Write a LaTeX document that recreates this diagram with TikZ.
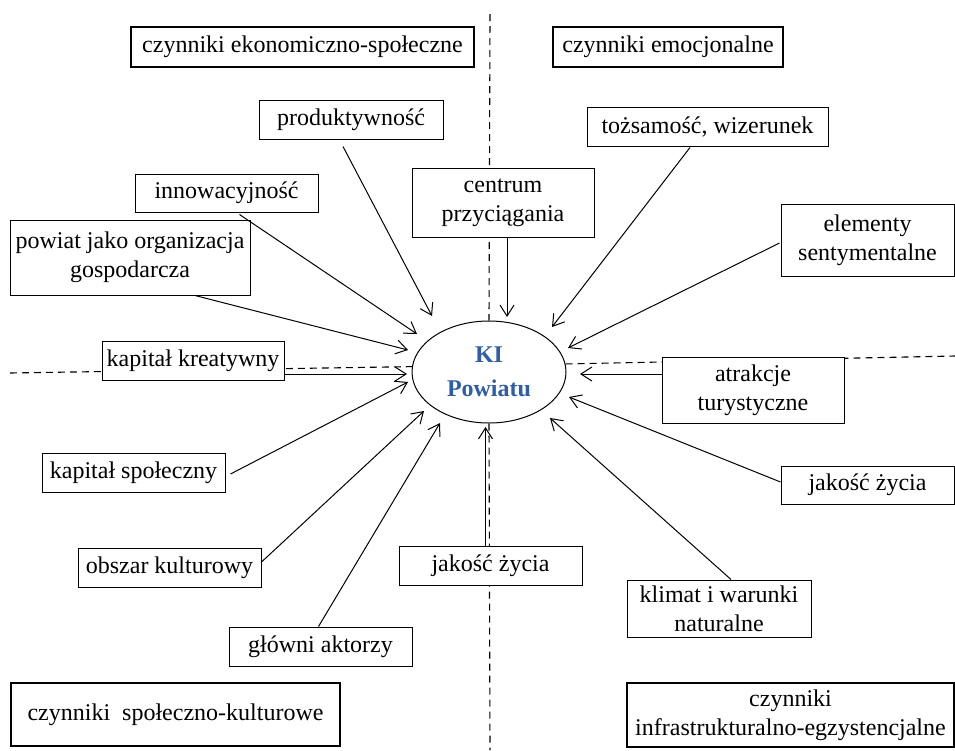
\documentclass[tikz,border=0pt]{standalone}
\usepackage{fontspec}
\setmainfont{Liberation Serif}
\usetikzlibrary{shapes.geometric,arrows.meta,calc}
\definecolor{kiblue}{RGB}{47,93,168}
\begin{document}
\begin{tikzpicture}[x=1pt,y=-1pt,
  txt/.style={font=\fontsize{24}{29}\selectfont},
  box/.style={txt,draw,line width=1pt,fill=white,inner sep=0pt,align=center,anchor=center},
  catbox/.style={box,line width=2pt},
  arr/.style={line width=1pt,-{Straight Barb[length=11pt,width=14pt,line width=1pt]}},
  dsh/.style={line width=1.1pt,dash pattern=on 7pt off 5pt}]
\useasboundingbox (0,0) rectangle (955,750);
\fill[white] (0,0) rectangle (955,750);

% centre
\node[ellipse,draw,line width=1pt,minimum width=154pt,minimum height=102pt,inner sep=0pt,
      align=center,text=kiblue,font=\fontsize{24}{34}\selectfont\bfseries] (ki) at (489,372) {KI\\Powiatu};

% dashed dividers
\coordinate (dTop) at (490,14);
\coordinate (dBot) at (490,750);
\coordinate (dLeft) at (10,373);
\coordinate (dRight) at (955,356);
\draw[dsh] (dTop) -- (ki.north);
\draw[dsh] (ki.south) -- (dBot);
\draw[dsh] (dLeft) -- (ki.176.5);
\draw[dsh] (ki.6) -- (dRight);

% category boxes
\node[catbox,minimum width=343pt,minimum height=40pt] (ekon) at (302.5,46.5) {czynniki ekonomiczno-społeczne};
\node[catbox,minimum width=230pt,minimum height=40pt] (emoc) at (668,46.5) {czynniki emocjonalne};
\node[catbox,minimum width=329pt,minimum height=63pt] (spkult) at (175.5,714.5) {czynniki\ \ społeczno-kulturowe};
\node[catbox,minimum width=327pt,minimum height=64pt] (infra) at (790.5,715) {czynniki\\infrastrukturalno-egzystencjalne};

% factor boxes
\node[box,minimum width=184pt,minimum height=39pt] (prod) at (351,119.5) {produktywność};
\node[box,minimum width=183pt,minimum height=38pt] (inno) at (226.5,193) {innowacyjność};
\node[box,minimum width=240pt,minimum height=75pt] (powiat) at (130,257.5) {powiat jako organizacja\\gospodarcza};
\node[box,minimum width=182pt,minimum height=69pt] (centrum) at (503,202.5) {centrum\\przyciągania};
\node[box,minimum width=241pt,minimum height=39pt] (tozs) at (707.5,126.5) {tożsamość, wizerunek};
\node[box,minimum width=173pt,minimum height=72pt] (elem) at (867.5,240) {elementy\\sentymentalne};
\node[box,minimum width=182pt,minimum height=39pt] (kreat) at (193,360.5) {kapitał kreatywny};
\node[box,minimum width=183pt,minimum height=39pt] (spol) at (133.5,472.5) {kapitał społeczny};
\node[box,minimum width=182pt,minimum height=66pt] (atrak) at (753,390) {atrakcje\\turystyczne};
\node[box,minimum width=173pt,minimum height=38pt] (jakR) at (867.5,485) {jakość życia};
\node[box,minimum width=183pt,minimum height=39pt] (obszar) at (169.5,567.5) {obszar kulturowy};
\node[box,minimum width=183pt,minimum height=39pt] (glowni) at (320.5,646.5) {główni aktorzy};
\node[box,minimum width=183pt,minimum height=39pt] (jakB) at (490.5,565.5) {jakość życia};
\node[box,minimum width=184pt,minimum height=57pt] (klimat) at (719,608.5) {klimat i warunki\\naturalne};

% arrow tips near the centre
\coordinate (tProd) at (432,316);
\coordinate (tInno) at (417,334);
\coordinate (tPowiat) at (408,350);
\coordinate (tKreat) at (407,374);
\coordinate (tSpol) at (408,382);
\coordinate (tObszar) at (424,411);
\coordinate (tGlowni) at (440,423);
\coordinate (tJakB) at (485.5,427);
\coordinate (tCentrum) at (507,317);
\coordinate (tTozs) at (552,327);
\coordinate (tElem) at (568,348);
\coordinate (tAtrak) at (580,374);
\coordinate (tJakR) at (569,397);
\coordinate (tKlimat) at (550,418);

% connectors
\draw[arr] ($(prod.south)+(-8,7)$) -- (tProd);
\draw[arr] ($(inno.south)+(13,2)$) -- (tInno);
\draw[arr] ($(powiat.south)+(65,0)$) -- (tPowiat);
\draw[arr] ($(kreat.east)+(0,13.5)$) -- (tKreat);
\draw[arr] ($(spol.east)+(5,1.5)$) -- (tSpol);
\draw[arr] ($(obszar.east)+(0,-5.5)$) -- (tObszar);
\draw[arr] ($(glowni.north)+(-2,0)$) -- (tGlowni);
\draw[arr] ($(jakB.north)+(-5,0)$) -- (tJakB);
\draw[arr] ($(centrum.south)+(4,0)$) -- (tCentrum);
\draw[arr] ($(tozs.south)+(-17.5,1)$) -- (tTozs);
\draw[arr] ($(elem.west)+(-1,3)$) -- (tElem);
\draw[arr] ($(atrak.west)+(0,-16)$) -- (tAtrak);
\draw[arr] ($(jakR.west)+(0,-3)$) -- (tJakR);
\draw[arr] ($(klimat.north)+(12,0)$) -- (tKlimat);
\end{tikzpicture}
\end{document}
